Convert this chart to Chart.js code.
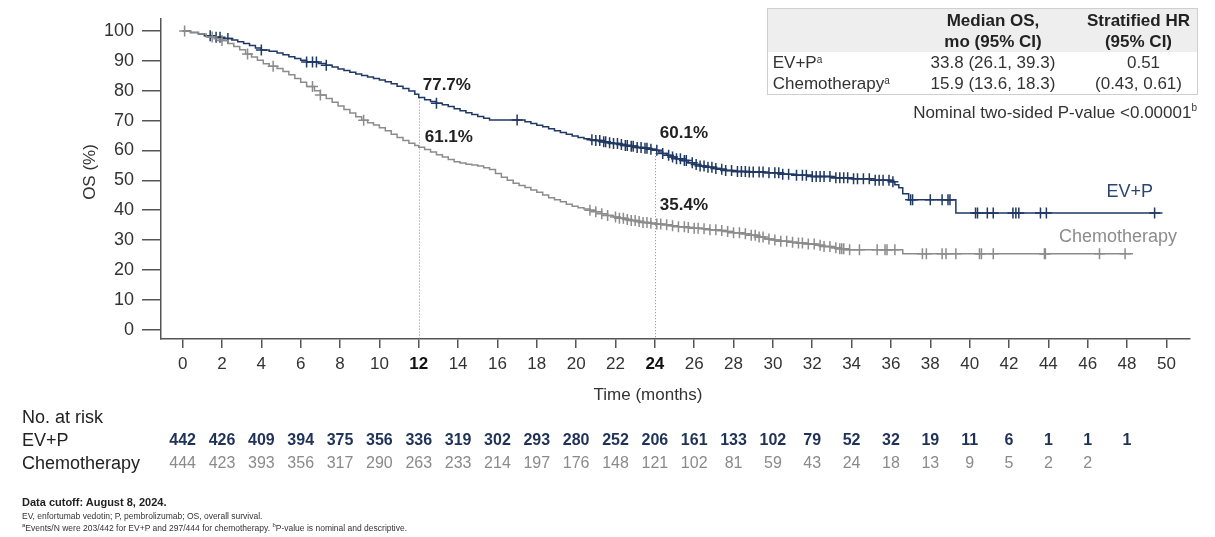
<!DOCTYPE html>
<html>
<head>
<meta charset="utf-8">
<script src="https://cdn.jsdelivr.net/npm/chart.js@4.4.1/dist/chart.umd.min.js"></script>
<style>
  body { margin: 0; background: #fff; font-family: "Liberation Sans", Arial, sans-serif; color: #333; }
  #wrap { position: relative; width: 1215px; height: 537px; overflow: hidden; }
  canvas { position: absolute; left: 0; top: 0; }
  .txt { position: absolute; white-space: nowrap; }
  #stats { position: absolute; left: 767px; top: 8px; width: 431px; border-collapse: collapse; border: 1px solid #cfcfcf; font-size: 17px; color: #333; }
  #stats td { padding: 0; line-height: 21px; }
  #stats tr.head td { background: #eeeeee; font-weight: bold; text-align: center; color: #222; }
  #stats sup { font-size: 10px; vertical-align: 5px; line-height: 0; }
  .foot { left: 22px; color: #333; }
</style>
</head>
<body>
<div id="wrap">
  <canvas id="km" width="1215" height="537"></canvas>
  <table id="stats">
    <tr class="head"><td style="width:138px"></td><td style="width:174px;padding-top:1px">Median OS,<br>mo (95% CI)</td><td style="padding-top:1px">Stratified HR<br>(95% CI)</td></tr>
    <tr><td>&nbsp;EV+P<sup>a</sup></td><td style="text-align:center">33.8 (26.1, 39.3)</td><td style="text-align:center;padding-left:10px">0.51</td></tr>
    <tr><td>&nbsp;Chemotherapy<sup>a</sup></td><td style="text-align:center">15.9 (13.6, 18.3)</td><td style="text-align:center">(0.43, 0.61)</td></tr>
  </table>
  <div class="txt" style="right:18px;top:102px;font-size:17px;color:#333">Nominal two-sided P-value &lt;0.00001<sup style="font-size:10px">b</sup></div>
  <div class="txt foot" style="top:496px;font-size:11px;font-weight:bold;color:#222">Data cutoff: August 8, 2024.</div>
  <div class="txt foot" style="top:511px;font-size:8.5px">EV, enfortumab vedotin; P, pembrolizumab; OS, overall survival.</div>
  <div class="txt foot" style="top:522px;font-size:8.5px"><sup style="font-size:6px">a</sup>Events/N were 203/442 for EV+P and 297/444 for chemotherapy. <sup style="font-size:6px">b</sup>P-value is nominal and descriptive.</div>
</div>
<script>
// Kaplan-Meier steps (months, OS %)
const evTimes = [0, 0.4, 0.8, 1.1, 1.5, 2.0, 2.5, 2.8, 3.1, 3.4, 3.7, 4.0, 4.4, 4.8, 5.1, 5.4, 5.7, 6.0, 6.3, 6.9, 7.3, 7.6, 7.9,
  8.2, 8.5, 8.8, 9.1, 9.4, 9.7, 10.0, 10.3, 10.6, 10.9, 11.2, 11.5, 11.8, 12.0, 12.3, 12.6, 12.9, 13.2, 13.5, 13.8, 14.1, 14.4,
  14.7, 15.0, 15.3, 15.6, 17.4, 17.7, 18.0, 18.3, 18.6, 18.9, 19.2, 19.5, 19.8, 20.1, 20.4, 20.7, 21.0, 21.3, 21.6, 21.9, 22.2,
  22.5, 22.8, 23.1, 23.4, 23.7, 24.0, 24.2, 24.4, 24.6, 24.8, 25.1, 25.4, 25.7, 26.0, 26.3, 26.6, 27.0, 27.3, 27.6, 28.0, 28.8,
  29.6, 30.4, 31.2, 32.0, 33.0, 34.0, 35.0, 36.0, 36.2, 36.4, 36.6, 36.9, 39.3, 49.8];
const evSurv = [100, 99.5, 99.0, 98.4, 97.9, 97.5, 97.0, 96.4, 95.8, 95.1, 94.3, 93.6, 93.2, 92.6, 92.0, 91.4, 90.8, 90.2, 89.6, 89.1, 88.5, 87.9, 87.3,
  86.8, 86.2, 85.6, 85.1, 84.6, 84.1, 83.6, 83.0, 82.3, 81.5, 80.7, 79.9, 78.8, 77.7, 77.0, 76.4, 75.8, 75.3, 74.7, 74.0, 73.3, 72.6,
  72.0, 71.4, 70.8, 70.2, 69.6, 69.0, 68.4, 67.9, 67.3, 66.6, 66.0, 65.4, 64.8, 64.3, 63.9, 63.6, 63.3, 62.9, 62.6, 62.3, 62.0,
  61.7, 61.4, 61.0, 60.7, 60.4, 60.1, 59.5, 59.0, 58.4, 57.8, 57.2, 56.6, 55.9, 55.3, 54.8, 54.4, 54.0, 53.7, 53.3, 53.0, 52.8,
  52.5, 52.0, 51.7, 51.3, 50.9, 50.5, 50.0, 49.5, 48.5, 47.5, 45.5, 43.5, 39.1, 39.1];
const chemoTimes = [0, 0.4, 0.8, 1.2, 1.6, 2.0, 2.3, 2.6, 2.9, 3.2, 3.5, 3.8, 4.1, 4.4, 4.8, 5.1, 5.4, 5.7, 6.0, 6.3, 6.7, 7.0, 7.3,
  7.6, 7.9, 8.2, 8.5, 8.8, 9.1, 9.4, 9.7, 10.0, 10.3, 10.6, 10.9, 11.2, 11.5, 11.8, 12.0, 12.3, 12.6, 12.9, 13.2, 13.5, 13.8,
  14.1, 14.4, 14.7, 15.0, 15.3, 15.6, 15.9, 16.2, 16.5, 16.8, 17.1, 17.4, 17.7, 18.0, 18.3, 18.6, 18.9, 19.2, 19.5, 19.8, 20.1,
  20.4, 20.7, 21.0, 21.3, 21.6, 21.9, 22.2, 22.5, 22.8, 23.1, 23.4, 23.7, 24.0, 24.4, 24.8, 25.2, 25.6, 26.0, 26.4, 26.8, 27.2,
  27.6, 28.0, 28.4, 28.8, 29.2, 29.6, 30.0, 30.4, 30.8, 31.2, 31.7, 32.2, 32.6, 33.0, 33.4, 33.7, 36.6, 48.3];
const chemoSurv = [100, 99.5, 99.0, 98.0, 97.4, 96.8, 95.8, 94.8, 93.7, 92.3, 91.3, 90.2, 89.0, 88.2, 87.4, 86.4, 85.3, 84.1, 82.8, 81.4, 80.0, 78.6, 77.4,
  76.1, 74.9, 73.7, 72.5, 71.3, 70.1, 69.3, 68.5, 67.6, 66.6, 65.4, 64.3, 63.3, 62.4, 61.7, 61.1, 60.3, 59.5, 58.6, 57.8, 57.0, 56.2,
  55.8, 55.4, 55.1, 54.8, 54.2, 53.6, 52.3, 51.0, 50.0, 49.0, 48.3, 47.6, 46.8, 46.0, 45.1, 44.2, 43.5, 42.8, 42.0, 41.3, 40.8,
  40.4, 40.0, 39.5, 38.8, 38.2, 37.7, 37.3, 36.9, 36.6, 36.2, 35.9, 35.6, 35.4, 35.1, 34.8, 34.5, 34.2, 34.0, 33.8, 33.5, 33.2,
  32.9, 32.5, 32.1, 31.6, 31.0, 30.4, 30.0, 29.6, 29.3, 29.0, 28.7, 28.3, 27.9, 27.4, 27.1, 26.8, 25.4, 25.4];

// censoring times (months)
const evCensor = [1.4, 1.7, 1.9, 2.3, 4.0, 6.3, 6.6, 6.8, 7.3, 12.9, 17.0, 20.8, 21.0, 21.2, 21.4, 21.5, 21.7, 21.9, 22.1, 22.3, 22.5, 22.6,
  22.8, 22.9, 23.1, 23.3, 23.5, 23.6, 23.8, 24.1, 24.4, 24.7, 24.9, 25.1, 25.3, 25.5, 25.6, 25.9, 26.1, 26.3, 26.5, 26.7, 26.9,
  27.1, 27.4, 27.6, 27.9, 28.2, 28.4, 28.6, 28.8, 29.0, 29.3, 29.5, 29.8, 30.1, 30.3, 30.5, 30.8, 31.2, 31.5, 31.7, 32.0, 32.2,
  32.4, 32.6, 32.9, 33.2, 33.4, 33.6, 33.8, 34.1, 34.3, 34.6, 34.9, 35.2, 35.4, 35.6, 35.9, 36.1, 37.0, 37.1, 38.0, 38.6, 38.9,
  39.0, 40.3, 40.4, 40.9, 41.2, 42.2, 42.35, 42.5, 43.6, 43.9, 49.4];
const chemoCensor = [0.1, 1.5, 2.0, 3.3, 4.6, 6.6, 7.0, 9.2, 20.7, 21.0, 21.3, 21.6, 22.0, 22.2, 22.4, 22.6, 22.8, 23.0, 23.2, 23.4, 23.6,
  23.8, 24.1, 24.3, 24.6, 24.9, 25.2, 25.5, 25.7, 26.0, 26.2, 26.5, 26.8, 27.1, 27.4, 27.7, 28.0, 28.3, 28.6, 28.9, 29.1, 29.3,
  29.5, 29.8, 30.1, 30.4, 30.7, 31.0, 31.3, 31.5, 31.8, 32.1, 32.4, 32.6, 32.9, 33.2, 33.4, 33.5, 33.6, 33.9, 34.4, 35.3, 35.7,
  35.8, 36.2, 37.6, 37.8, 38.6, 38.8, 39.3, 40.5, 40.6, 41.2, 43.8, 43.85, 46.6, 47.9];

const xTicks = [0, 2, 4, 6, 8, 10, 12, 14, 16, 18, 20, 22, 24, 26, 28, 30, 32, 34, 36, 38, 40, 42, 44, 46, 48, 50];
const yTicks = [0, 10, 20, 30, 40, 50, 60, 70, 80, 90, 100];
const boldTicks = [12, 24];

// number at risk, every 2 months from 0
const riskEV = [442, 426, 409, 394, 375, 356, 336, 319, 302, 293, 280, 252, 206, 161, 133, 102, 79, 52, 32, 19, 11, 6, 1, 1, 1];
const riskChemo = [444, 423, 393, 356, 317, 290, 263, 233, 214, 197, 176, 148, 121, 102, 81, 59, 43, 24, 18, 13, 9, 5, 2, 2];

// landmark rates at 12 and 24 months
const landmarkMonths = [12, 24];
const landmarkEV = [77.7, 60.1];
const landmarkChemo = [61.1, 35.4];

const navy = "#1f3864";
const grey = "#8c8c8c";
const font = "'Liberation Sans', Arial, sans-serif";

function stepValue(times, surv, t) {
  let v = surv[0];
  for (let i = 0; i < times.length; i++) {
    if (times[i] <= t) v = surv[i];
  }
  return v;
}

function isBold(ctx) {
  return !!(ctx && ctx.tick && boldTicks.includes(ctx.tick.value));
}

const extras = {
  id: "extras",
  beforeDatasetsDraw(chart) {
    const ctx = chart.ctx, x = chart.scales.x, y = chart.scales.y;
    ctx.save();
    ctx.strokeStyle = "#8a8a8a";
    ctx.lineWidth = 1;
    ctx.setLineDash([1, 2]);
    landmarkMonths.forEach((m, i) => {
      const px = Math.round(x.getPixelForValue(m)) + 0.5;
      ctx.beginPath();
      ctx.moveTo(px, y.getPixelForValue(landmarkEV[i]));
      ctx.lineTo(px, chart.chartArea.bottom);
      ctx.stroke();
    });
    ctx.restore();
  },
  afterDraw(chart) {
    const ctx = chart.ctx, x = chart.scales.x;
    ctx.save();
    ctx.textBaseline = "middle";

    // landmark labels
    ctx.fillStyle = "#222";
    ctx.font = "bold 17px " + font;
    ctx.textAlign = "left";
    ctx.fillText(landmarkEV[0].toFixed(1) + "%", x.getPixelForValue(12) + 4, 85);
    ctx.fillText(landmarkChemo[0].toFixed(1) + "%", x.getPixelForValue(12) + 6, 137);
    ctx.fillText(landmarkEV[1].toFixed(1) + "%", x.getPixelForValue(24) + 5, 133);
    ctx.fillText(landmarkChemo[1].toFixed(1) + "%", x.getPixelForValue(24) + 5, 205);

    // curve labels
    ctx.font = "18px " + font;
    ctx.textAlign = "right";
    ctx.fillStyle = "#2a4670";
    ctx.fillText("EV+P", 1153, 192);
    ctx.fillStyle = grey;
    ctx.fillText("Chemotherapy", 1177, 237);

    // axis titles
    ctx.fillStyle = "#333";
    ctx.font = "17px " + font;
    ctx.textAlign = "center";
    ctx.fillText("Time (months)", 648, 395);
    ctx.save();
    ctx.translate(90, 172);
    ctx.rotate(-Math.PI / 2);
    ctx.fillText("OS (%)", 0, 0);
    ctx.restore();

    // risk table
    ctx.textAlign = "left";
    ctx.fillStyle = "#222";
    ctx.font = "18px " + font;
    ctx.fillText("No. at risk", 22, 418);
    ctx.fillText("EV+P", 22, 441);
    ctx.fillText("Chemotherapy", 22, 464);
    ctx.textAlign = "center";
    ctx.font = "bold 16px " + font;
    ctx.fillStyle = "#1f3258";
    riskEV.forEach((n, i) => ctx.fillText(String(n), x.getPixelForValue(i * 2), 441));
    ctx.font = "16px " + font;
    ctx.fillStyle = "#8a8a8a";
    riskChemo.forEach((n, i) => ctx.fillText(String(n), x.getPixelForValue(i * 2), 464));
    ctx.restore();
  }
};

new Chart(document.getElementById("km").getContext("2d"), {
  type: "line",
  data: {
    datasets: [
      {
        data: chemoTimes.map((t, i) => ({ x: t, y: chemoSurv[i] })),
        stepped: true, borderColor: grey, borderWidth: 1.5, pointRadius: 0, fill: false
      },
      {
        type: "scatter",
        data: chemoCensor.map(t => ({ x: t, y: stepValue(chemoTimes, chemoSurv, t) })),
        pointStyle: "cross", pointRadius: 5.5, borderColor: grey, borderWidth: 1.5
      },
      {
        data: evTimes.map((t, i) => ({ x: t, y: evSurv[i] })),
        stepped: true, borderColor: navy, borderWidth: 1.5, pointRadius: 0, fill: false
      },
      {
        type: "scatter",
        data: evCensor.map(t => ({ x: t, y: stepValue(evTimes, evSurv, t) })),
        pointStyle: "cross", pointRadius: 5.5, borderColor: navy, borderWidth: 1.5
      }
    ]
  },
  options: {
    responsive: false,
    animation: false,
    layout: { padding: { left: 0, top: 19, right: 25, bottom: 138 } },
    plugins: { legend: { display: false }, tooltip: { enabled: false } },
    scales: {
      x: {
        type: "linear",
        min: -1.1,
        max: 51.2,
        afterBuildTicks: s => { s.ticks = xTicks.map(v => ({ value: v })); },
        afterFit: s => { s.height = 60; },
        ticks: {
          padding: 6,
          color: ctx => isBold(ctx) ? "#111" : "#333",
          font: ctx => ({ family: font, size: 17, weight: isBold(ctx) ? "bold" : "normal" })
        },
        grid: { drawOnChartArea: false, tickLength: 9, color: "#555", lineWidth: 1.5 },
        border: { color: "#555", width: 1.5 }
      },
      y: {
        min: -3.1,
        max: 104,
        afterBuildTicks: s => { s.ticks = yTicks.map(v => ({ value: v })); },
        afterFit: s => { s.width = 161; },
        ticks: { padding: 8, color: "#333", font: { family: font, size: 18 } },
        grid: { drawOnChartArea: false, tickLength: 19, color: "#555", lineWidth: 1.5 },
        border: { color: "#555", width: 1.5 }
      }
    }
  },
  plugins: [extras]
});
</script>
</body>
</html>
